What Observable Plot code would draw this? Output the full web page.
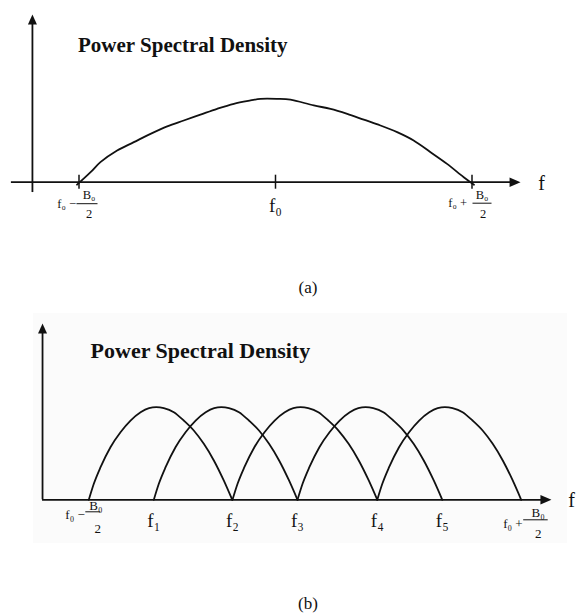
<!DOCTYPE html>
<html><head><meta charset="utf-8">
<script src="https://cdn.jsdelivr.net/npm/d3@7"></script>
<script src="https://cdn.jsdelivr.net/npm/@observablehq/plot@0.6"></script>
<style>
body{margin:0;background:#fff;}
#wrap{position:relative;width:577px;height:614px;overflow:hidden;font-family:"Liberation Serif","Times New Roman",serif;color:#111;}
.panel{position:absolute;left:0;}
.panel svg{overflow:visible;}
.cap{position:absolute;width:100px;text-align:center;font-size:17px;line-height:20px;left:258px;}
#bgb{position:absolute;left:33px;top:313px;width:534px;height:230px;background:#fbfbfb;}
</style></head><body>
<div id="wrap">
  <div id="bgb"></div>
  <div class="panel" id="pa" style="top:0"></div>
  <div class="panel" id="pb" style="top:300px"></div>
  <div class="cap" id="capA" style="top:278px"></div>
  <div class="cap" id="capB" style="top:594px"></div>
</div>
<script>
// ---------- data ----------
const titleText = "Power Spectral Density";
const axisName = "f";
const captions = ["(a)", "(b)"];

// Panel (a): one spectrum, x in units of B0/2 around f0
const aCurveX = [-1.01, -0.941, -0.891, -0.806, -0.721, -0.636, -0.551, -0.467, -0.382, -0.297, -0.212, -0.127, -0.076, 0.009, 0.076, 0.195, 0.280, 0.365, 0.449, 0.534, 0.619, 0.703, 0.789, 0.873, 0.958, 1.01];
const aCurveY = [-0.03, 0.12, 0.24, 0.38, 0.48, 0.58, 0.67, 0.74, 0.81, 0.88, 0.94, 0.98, 1.0, 1.0, 0.99, 0.92, 0.88, 0.82, 0.75, 0.68, 0.60, 0.50, 0.36, 0.22, 0.06, -0.03];
const aTicks = [-1, 0, 1];
const aTickLabels = ["f₀−B₀/2", "f₀", "f₀+B₀/2"];

// Panel (b): five overlapping sub-band spectra
const bArchStart = [0, 0.902, 1.994, 2.896, 4.003];
const bArchEnd   = [1.99, 2.896, 4.003, 4.905, 6.0];
const bProfileU = [0, 0.035, 0.082, 0.151, 0.221, 0.291, 0.361, 0.42, 0.47, 0.523, 0.593, 0.662, 0.732, 0.802, 0.872, 0.941, 1];
const bProfileH = [0, 0.173, 0.352, 0.568, 0.730, 0.856, 0.946, 0.99, 1.0, 0.99, 0.946, 0.856, 0.748, 0.604, 0.425, 0.209, 0];
const bTicks = [0, 0.902, 1.994, 2.896, 4.003, 4.905, 6];
const bTickLabels = ["f₀−B₀/2", "f₁", "f₂", "f₃", "f₄", "f₅", "f₀+B₀/2"];

// ---------- helpers ----------
const SERIF = "Liberation Serif, Times New Roman, serif";
const INK = "#111";
const arrowUp = {draw(ctx){ ctx.moveTo(0,0); ctx.lineTo(-4.5,10); ctx.lineTo(4.5,10); ctx.closePath(); }};
const arrowRight = {draw(ctx){ ctx.moveTo(0,0); ctx.lineTo(-11,-4.8); ctx.lineTo(-11,4.8); ctx.closePath(); }};

function parseTicks(ticks, labels){
  return ticks.map((x,i)=>{
    const m = labels[i].match(/^(f₀)([−+])(B₀)\/(2)$/);
    return m ? {x, frac:true, prefix: m[1] + " " + m[2], num: m[3], den: m[4]}
             : {x, frac:false, text: labels[i]};
  });
}

function labelMarks(parsed, pxPerUnit, o){
  const fr = parsed.filter(d=>d.frac);
  const plain = parsed.filter(d=>!d.frac);
  const marks = [];
  fr.forEach((d,i)=>{
    const s = o.frac[i];
    marks.push(Plot.text([d], {x:"x", y:()=>0, text:"prefix", textAnchor:"end", dx:s.pre[0], dy:s.pre[1], fontSize:o.small, fontFamily:SERIF, fill:INK}));
    marks.push(Plot.text([d], {x:"x", y:()=>0, text:"num", dx:s.num[0], dy:s.num[1], fontSize:o.small, fontFamily:SERIF, fill:INK}));
    marks.push(Plot.text([d], {x:"x", y:()=>0, text:"den", dx:s.den[0], dy:s.den[1], fontSize:o.small, fontFamily:SERIF, fill:INK}));
    marks.push(Plot.ruleY([d], {y:()=>0, x1:e=>e.x + s.bar[0]/pxPerUnit, x2:e=>e.x + s.bar[1]/pxPerUnit, dy:s.bar[2], stroke:INK, strokeWidth:1}));
  });
  marks.push(Plot.text(plain, {x:"x", y:()=>0, text:"text", dy:o.plainDy, fontSize:o.big, fontFamily:SERIF, fill:INK}));
  return marks;
}

// ---------- panel (a) ----------
const aPx = 196.5; // px per unit
const aData = aCurveX.map((x,i)=>({x, y:aCurveY[i]}));
const aParsed = parseTicks(aTicks, aTickLabels);
const plotA = Plot.plot({
  width: 577, height: 240,
  marginLeft: 78.5, marginRight: 105.5, marginTop: 98.3, marginBottom: 58.3,
  x: {domain:[-1,1], axis:null},
  y: {domain:[0,1], axis:null},
  style: {background:"transparent", overflow:"visible"},
  marks: [
    Plot.ruleY([0], {x1:-1.344, x2:1.22, stroke:INK, strokeWidth:1.8}),
    Plot.ruleX([-1.237], {y1:-0.124, y2:1.95, stroke:INK, strokeWidth:1.8}),
    Plot.dot([{x:1.247, y:0}], {x:"x", y:"y", symbol:arrowRight, fill:INK, stroke:null}),
    Plot.dot([{x:-1.237, y:2.011}], {x:"x", y:"y", symbol:arrowUp, fill:INK, stroke:null}),
    Plot.ruleX(aTicks, {y1:-0.084, y2:0.084, stroke:INK, strokeWidth:1.5}),
    Plot.line(aData, {x:"x", y:"y", curve:"catmull-rom", stroke:INK, strokeWidth:1.8}),
    Plot.text([titleText], {x:()=>-1.005, y:()=>1.64, text:d=>d, textAnchor:"start", fontSize:21, fontWeight:"bold", fontFamily:SERIF, fill:INK}),
    Plot.text([axisName], {x:()=>1.354, y:()=>0, text:d=>d, dy:1, fontSize:20, fontFamily:SERIF, fill:INK}),
    ...labelMarks(aParsed, aPx, {
      small: 12.5, big: 19, plainDy: 24,
      frac: [
        {pre:[-3,22], num:[10,13], den:[10,31.5], bar:[-2,19,21.5]},
        {pre:[-5,21], num:[10,13], den:[11,31.5], bar:[1,20,21]}
      ]
    })
  ]
});
document.getElementById("pa").appendChild(plotA);

// ---------- panel (b) ----------
const bPx = 72.07;
const bData = [];
bArchStart.forEach((s,k)=>{
  const w = bArchEnd[k] - s;
  bProfileU.forEach((u,j)=> bData.push({arch:k, x: s + u*w, y: bProfileH[j]}));
});
const bParsed = parseTicks(bTicks, bTickLabels);
const plotB = Plot.plot({
  width: 577, height: 250,
  marginLeft: 88.3, marginRight: 56.3, marginTop: 106.7, marginBottom: 50.7,
  x: {domain:[0,6], axis:null},
  y: {domain:[0,1], axis:null},
  style: {background:"transparent", overflow:"visible"},
  marks: [
    Plot.ruleY([0], {x1:-0.642, x2:6.34, stroke:INK, strokeWidth:1.8}),
    Plot.ruleX([-0.642], {y1:0, y2:1.85, stroke:INK, strokeWidth:1.8}),
    Plot.dot([{x:6.42, y:0}], {x:"x", y:"y", symbol:arrowRight, fill:INK, stroke:null}),
    Plot.dot([{x:-0.642, y:1.904}], {x:"x", y:"y", symbol:arrowUp, fill:INK, stroke:null}),
    Plot.line(bData, {x:"x", y:"y", z:"arch", curve:"monotone-x", stroke:INK, strokeWidth:1.8}),
    Plot.text([titleText], {x:()=>0.025, y:()=>1.612, text:d=>d, textAnchor:"start", fontSize:22, fontWeight:"bold", fontFamily:SERIF, fill:INK}),
    Plot.text([axisName], {x:()=>6.698, y:()=>0, text:d=>d, dy:1, fontSize:20, fontFamily:SERIF, fill:INK}),
    ...labelMarks(bParsed, bPx, {
      small: 13, big: 19, plainDy: 21,
      frac: [
        {pre:[-4,15], num:[7,6], den:[9,29], bar:[-3,12,12]},
        {pre:[1.5,24], num:[17,13], den:[17,34], bar:[2.5,27,20]}
      ]
    })
  ]
});
document.getElementById("pb").appendChild(plotB);

document.getElementById("capA").textContent = captions[0];
document.getElementById("capB").textContent = captions[1];
</script>
</body></html>
